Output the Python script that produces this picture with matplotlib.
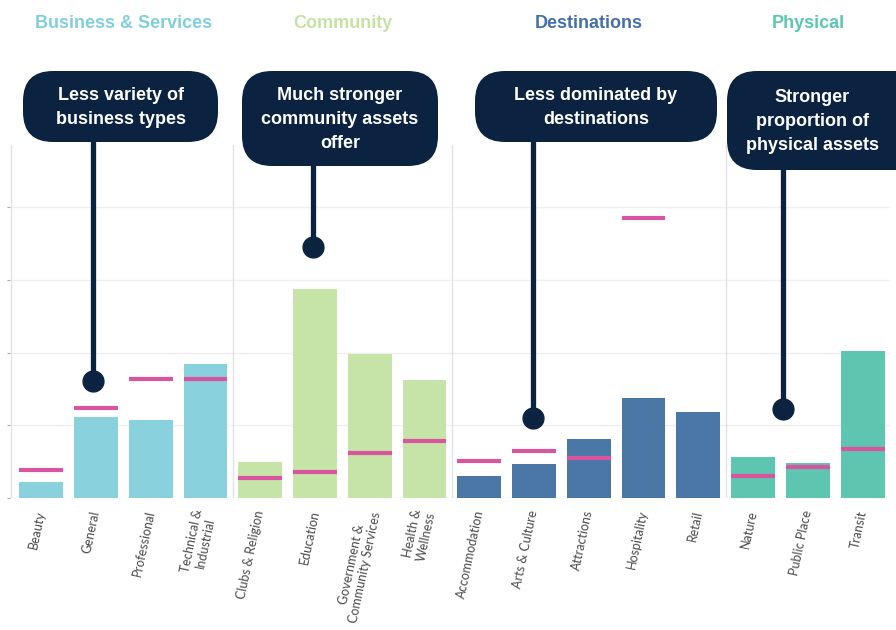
import numpy as np
import matplotlib
matplotlib.use("Agg")
import matplotlib.pyplot as plt
import matplotlib.transforms as mtransforms
from matplotlib.patches import FancyBboxPatch

# datos
categorias = ["Beauty", "General", "Professional", "Technical &\nIndustrial",
              "Clubs & Religion", "Education", "Government &\nCommunity Services",
              "Health &\nWellness", "Accommodation", "Arts & Culture", "Attractions",
              "Hospitality", "Retail", "Nature", "Public Place", "Transit"]
grupo = [0, 0, 0, 0, 1, 1, 1, 1, 2, 2, 2, 2, 2, 3, 3, 3]
valores = [1.1, 5.6, 5.4, 9.2, 2.5, 14.4, 9.9, 8.1, 1.5, 2.35, 4.05, 6.9, 5.9, 2.8, 2.4, 10.1]
referencia = [1.9, 6.2, 8.2, 8.2, 1.4, 1.8, 3.1, 3.9, 2.55, 3.25, 2.75, 19.3, np.nan, 1.5, 2.1, 3.4]

grupos = ["Business & Services", "Community", "Destinations", "Physical"]
cores = ["#88d1dd", "#c6e4a8", "#4b77a7", "#5dc5b0"]
cor_titulo = ["#80cfdb", "#c4e3a3", "#4470a8", "#5cc6b1"]

notas = ["Less variety of\nbusiness types",
         "Much stronger\ncommunity assets\noffer",
         "Less dominated by\ndestinations",
         "Stronger\nproportion of\nphysical assets"]
nota_x = [0.95, 4.97, 8.98, 13.55]      # posição da linha (índice da barra)
nota_y = [8.07, 17.3, 5.5, 6.1]         # posição do ponto
caixas = [(23, 71, 195, 71), (242, 71, 196, 95), (475, 71, 242, 71), (727, 71, 200, 99)]

azul = "#0b2341"
rosa = "#d9559f"

fig = plt.figure(figsize=(8.96, 6.3), dpi=100)
ax = fig.add_axes([10 / 896, 1 - 498 / 630, 880 / 896, 353 / 630])

x = np.arange(len(categorias))
ax.bar(x, valores, width=0.8, color=[cores[g] for g in grupo], zorder=2)
ax.hlines(referencia, x - 0.4, x + 0.4, colors=rosa, lw=3, zorder=3)

ax.set_xlim(-0.57, 15.5)
ax.set_ylim(0, 24.3)
ax.set_yticks([0, 5, 10, 15, 20])
ax.yaxis.grid(True, color="#efefef", lw=1)
ax.set_axisbelow(True)
ax.tick_params(axis="y", length=2, color="#aaaaaa", labelleft=False)
for s in ax.spines.values():
    s.set_visible(False)
for xv in [-0.55, 3.5, 7.5, 12.5]:
    ax.axvline(xv, color="#e2e2e2", lw=1, zorder=1)

ax.set_xticks(x)
ax.set_xticklabels(categorias, rotation=78, ha="right", va="center",
                   rotation_mode="anchor", fontsize=9, color="#4a4a4a",
                   family="Lato", multialignment="center")
ax.tick_params(axis="x", length=0, pad=9)

# títulos dos grupos
trans = mtransforms.blended_transform_factory(ax.transData, fig.transFigure)
for i, nome in enumerate(grupos):
    pos = x[np.array(grupo) == i].mean()
    ax.text(pos, 1 - 23 / 630, nome, transform=trans, ha="center", va="center",
            fontsize=13, fontweight="bold", color=cor_titulo[i],
            family="Liberation Sans")

# linhas e pontos
for xn, yn in zip(nota_x, nota_y):
    ax.plot([xn, xn], [yn, 26], color=azul, lw=3.8, clip_on=False, zorder=5,
            solid_capstyle="butt")
    ax.plot(xn, yn, "o", color=azul, ms=15, clip_on=False, zorder=5)

# caixas
ov = fig.add_axes([0, 0, 1, 1])
ov.set_xlim(0, 896)
ov.set_ylim(630, 0)
ov.axis("off")
for (bx, by, bw, bh), txt in zip(caixas, notas):
    ov.add_patch(FancyBboxPatch((bx, by), bw, bh,
                                boxstyle="round,pad=0,rounding_size=30",
                                fc=azul, ec="none", zorder=6))
    ov.text(bx + bw / 2 if bx + bw < 896 else bx + 85, by + bh / 2 + 1, txt,
            ha="center", va="center", color="white", fontsize=13,
            fontweight="bold", family="Liberation Sans", linespacing=1.5,
            zorder=7)

fig.savefig("out.png", dpi=100)
